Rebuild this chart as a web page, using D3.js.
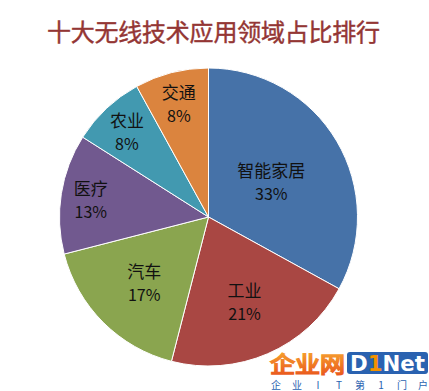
<!DOCTYPE html>
<html>
<head>
<meta charset="utf-8">
<script src="https://cdn.jsdelivr.net/npm/d3@7"></script>
<style>
  body { margin: 0; background: #fff; }
  svg { display: block; }
</style>
</head>
<body>
<svg id="chart" width="429" height="391"></svg>
<script>
// data
const title = '十大无线技术应用领域占比排行';
const categories = ['智能家居', '工业', '汽车', '医疗', '农业', '交通'];
const values = [33, 21, 17, 13, 8, 8];
const colors = ['#4672a8', '#a94743', '#8aa54f', '#71598f', '#4299b0', '#db843e'];

const W = 429, H = 391;
const CX = 208.5, CY = 217, R = 149;

const svg = d3.select('#chart');

svg.append('text')
  .attr('x', 47)
  .attr('y', 41)
  .attr('textLength', 333)
  .attr('lengthAdjust', 'spacing')
  .attr('fill', '#943634')
  .attr('stroke', '#943634')
  .attr('stroke-width', 0.4)
  .style('font', '24px "Noto Sans CJK SC"')
  .text(title);

const data = categories.map((c, i) => ({ name: c, value: values[i], color: colors[i] }));

const pie = d3.pie().value(d => d.value).sort(null);
const arcs = pie(data);
const arc = d3.arc().innerRadius(0).outerRadius(R);

const g = svg.append('g').attr('transform', 'translate(' + CX + ',' + CY + ')');

g.selectAll('path')
  .data(arcs)
  .enter()
  .append('path')
  .attr('d', arc)
  .attr('fill', d => d.data.color)
  .attr('stroke', '#fff')
  .attr('stroke-width', 1);

// excel "best fit": big slices inside, small ones pushed out
const labelFrac = d => {
  const share = d.data.value / d3.sum(values);
  if (share > 0.3) return 0.49;
  if (share > 0.15) return 0.61;
  return 0.8;
};

const lab = g.selectAll('g.lab')
  .data(arcs)
  .enter()
  .append('g')
  .attr('class', 'lab')
  .attr('transform', d => {
    const a = (d.startAngle + d.endAngle) / 2;
    const r = R * labelFrac(d);
    return 'translate(' + (Math.sin(a) * r) + ',' + (-Math.cos(a) * r) + ')';
  });

lab.append('text')
  .attr('text-anchor', 'middle')
  .attr('y', -3)
  .attr('fill', '#111')
  .style('font', '17px "Noto Sans CJK SC"')
  .text(d => d.data.name);

lab.append('text')
  .attr('text-anchor', 'middle')
  .attr('y', 20)
  .attr('fill', '#111')
  .style('font', '16px "Noto Sans CJK SC"')
  .text(d => d.data.value + '%');

// watermark
const defs = svg.append('defs');
const grad = defs.append('linearGradient')
  .attr('id', 'wm')
  .attr('x1', 0).attr('y1', 0).attr('x2', 0).attr('y2', 1);
grad.append('stop').attr('offset', '0%').attr('stop-color', '#f9b233');
grad.append('stop').attr('offset', '100%').attr('stop-color', '#e8501b');

const wm = svg.append('g');
wm.append('text')
  .attr('x', 270)
  .attr('y', 372)
  .attr('textLength', 75)
  .attr('lengthAdjust', 'spacingAndGlyphs')
  .attr('fill', 'url(#wm)')
  .attr('stroke', 'url(#wm)')
  .attr('stroke-width', 1.6)
  .style('font', '22px "Noto Sans CJK SC"')
  .text('企业网');
wm.append('rect')
  .attr('x', 347).attr('y', 352)
  .attr('width', 81).attr('height', 22)
  .attr('rx', 3)
  .attr('fill', '#2a62b0');
wm.append('text')
  .attr('x', 350)
  .attr('y', 371)
  .attr('textLength', 75)
  .attr('lengthAdjust', 'spacingAndGlyphs')
  .attr('fill', '#fff')
  .style('font', 'bold 21px "DejaVu Sans"')
  .html('D<tspan fill="#f39200">1</tspan>Net');
const foot = ['企', '业', 'I', 'T', '第', '1', '门', '户'];
wm.selectAll('text.foot')
  .data(foot)
  .enter()
  .append('text')
  .attr('class', 'foot')
  .attr('x', (d, i) => 276 + i * 21)
  .attr('y', 389)
  .attr('text-anchor', 'middle')
  .attr('fill', '#2a62b0')
  .style('font', '10px "Noto Sans CJK SC"')
  .text(d => d);
</script>
</body>
</html>
